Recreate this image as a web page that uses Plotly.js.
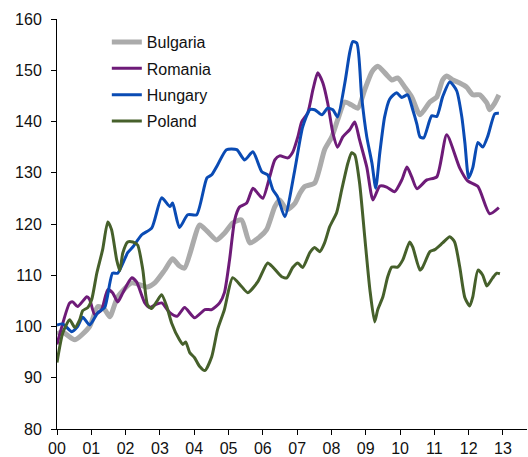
<!DOCTYPE html>
<html>
<head>
<meta charset="utf-8">
<script src="https://cdn.plot.ly/plotly-3.0.1.min.js"></script>
<style>html,body{margin:0;padding:0;background:#fff;}#chart{width:528px;height:457px;}</style>
</head>
<body>
<div id="chart"></div>
<script>
// Years since 2000 (decimal), index values
const seriesNames = ["Bulgaria", "Romania", "Hungary", "Poland"];
const tickYears = [0,1,2,3,4,5,6,7,8,9,10,11,12,13];
const tickLabels = ["00","01","02","03","04","05","06","07","08","09","10","11","12","13"];

const bulgariaX = [0,0.15,0.52,0.95,1.19,1.39,1.54,1.77,2.18,2.64,2.85,3.14,3.37,3.57,3.72,4.16,4.39,4.65,4.88,5.12,5.38,5.62,5.91,6.11,6.35,6.49,6.70,6.93,7.08,7.22,7.51,7.80,8.01,8.18,8.39,8.59,8.77,8.97,9.18,9.35,9.61,9.76,9.93,10.14,10.34,10.58,10.87,11.07,11.24,11.36,11.54,11.74,11.94,12.12,12.32,12.53,12.61,12.76,12.88];
const bulgariaY = [98.5,99,97.4,100,103.9,103.3,101.9,105.8,108.5,107.7,108.5,111,113.2,111.8,111.4,119.8,118.5,116.9,118.2,120.2,120.8,116.3,117.5,118.9,123.4,124.7,122.8,124,126,127.3,128,134.5,137,140.3,143.8,143.2,142.6,146.2,149.7,150.8,149.1,148.1,148.5,146.7,144.8,141.3,143.8,144.8,148.1,148.9,148.1,147.5,146.7,145.2,145.2,143.6,142.3,143.6,145.2];

const romaniaX = [0,0.37,0.46,0.60,0.87,0.95,1.10,1.30,1.48,1.62,1.77,1.92,2.18,2.32,2.56,2.70,2.85,3.05,3.29,3.50,3.72,4.01,4.31,4.51,4.74,4.88,5.03,5.18,5.32,5.53,5.71,5.85,6.00,6.20,6.35,6.49,6.73,6.87,7.02,7.13,7.31,7.46,7.60,7.75,7.89,8.04,8.18,8.33,8.53,8.68,8.82,9.03,9.21,9.41,9.61,9.84,10.05,10.20,10.34,10.49,10.78,11.07,11.36,11.74,11.97,12.27,12.61,12.88];
const romaniaY = [96.5,104.6,104.8,103.9,105.8,105.3,102.3,103.3,107.2,106.6,104.8,106.6,109.5,108.7,104.6,103.7,104.2,104.6,102.7,102,103.7,101.7,103.3,103.3,104.6,106.6,113,120.8,123.3,124.1,127,126,125,129.2,132.5,133.3,132.9,134,137,139.9,141.7,146.2,149.5,147.5,143.6,137.8,135,137,138.4,139.9,136.4,131.1,124.7,127.4,127.2,126.3,128.6,131.1,129.2,126.9,128.6,129.2,137.4,130.9,128.4,127.3,122,123.2];

const hungaryX = [0,0.17,0.43,0.60,0.75,0.95,1.19,1.39,1.62,1.77,2.06,2.21,2.47,2.76,3.05,3.29,3.37,3.57,3.81,4.07,4.37,4.51,4.68,4.94,5.24,5.47,5.71,5.97,6.14,6.29,6.43,6.64,6.93,7.16,7.37,7.51,7.72,7.89,8.04,8.18,8.39,8.53,8.62,8.74,8.88,9.03,9.18,9.29,9.41,9.55,9.70,9.90,10.05,10.22,10.37,10.49,10.58,10.69,10.92,11.07,11.24,11.45,11.65,11.80,11.89,12.00,12.12,12.27,12.41,12.56,12.76,12.88];
const hungaryY = [100.3,100.5,99,100,101.8,100.3,102.7,103.7,110.4,110.4,114.4,115.5,117.9,119.2,125.1,123.4,124.1,119.3,121.8,121.8,129,129.6,131.5,134.5,134.5,132.5,134.1,130.2,129.6,126.7,125.3,121.4,130.5,138.9,142.3,142.3,141.3,142.6,142.3,140.9,147.5,153.4,155.6,155.3,144.8,137,131.9,127,133.9,140.9,144.4,145.6,144.7,145.2,142.3,139.5,137,136.8,141.1,141,144.8,147.7,146,140.9,135.8,129,131,135.9,135,137.2,141.5,141.6];

const polandX = [0,0.17,0.37,0.52,0.66,0.75,0.90,1.01,1.16,1.33,1.48,1.59,1.74,1.83,1.92,2.06,2.21,2.35,2.50,2.64,2.76,2.90,3.05,3.20,3.34,3.57,3.67,3.75,3.87,4.01,4.16,4.31,4.51,4.68,4.88,5.12,5.38,5.56,5.85,6.14,6.29,6.55,6.70,6.87,7.02,7.16,7.37,7.51,7.66,7.80,7.95,8.15,8.30,8.48,8.59,8.68,8.82,8.97,9.12,9.26,9.35,9.50,9.64,9.76,9.93,10.08,10.28,10.37,10.58,10.66,10.87,11.01,11.24,11.45,11.59,11.74,11.89,12.03,12.12,12.27,12.41,12.53,12.70,12.82,12.91];
const polandY = [93,98.8,101.3,99.8,101.3,103.1,103.7,105.2,110.4,115,120.4,118.9,113,110.9,114.4,116.5,116.5,115.9,111.1,104.2,103.5,104.8,106.2,103.9,100.7,97.4,96.5,97,94.9,93.9,92.2,91.4,94.1,99.4,103.3,109.5,107.8,106.6,108.7,112.4,111.6,109.7,109.5,111.5,112.4,111.5,114.4,115.4,114.6,116.3,119.5,122.2,126.7,131.9,133.9,133.5,128,117.5,107.2,100.9,103.3,105.8,109.7,111.6,111.6,113,116.5,115.5,111,111.6,114.6,115,116.3,117.5,116.5,111.6,105.6,104,105.8,111,110,107.9,109.5,110.4,110.3];

const xs = [bulgariaX, romaniaX, hungaryX, polandX];
const ys = [bulgariaY, romaniaY, hungaryY, polandY];
const colors = ["#ababab", "#6e1b78", "#0a4bb4", "#46602b"];
const widths = [5, 3, 3, 3];

const traces = seriesNames.map((n, i) => ({
  type: "scatter", mode: "lines", name: n,
  x: xs[i], y: ys[i],
  legendgroup: "g" + i,
  line: {color: colors[i], width: widths[i], shape: "spline", smoothing: 0.6}
}));

const fontFam = "Liberation Sans, Arial, sans-serif";
const layout = {
  width: 528, height: 457,
  margin: {l: 57, r: 1, t: 19, b: 28},
  paper_bgcolor: "#fff", plot_bgcolor: "#fff",
  font: {family: fontFam, size: 16, color: "#111"},
  showlegend: true,
  legend: {x: 0.106, y: 0.985, xanchor: "left", yanchor: "top",
           bgcolor: "rgba(0,0,0,0)", font: {family: fontFam, size: 16, color: "#111"},
           traceorder: "grouped", tracegroupgap: 2.5, itemwidth: 30},
  xaxis: {range: [0, 13.7], tickvals: tickYears, ticktext: tickLabels,
          showgrid: false, zeroline: false, showline: true, linecolor: "#000", linewidth: 1,
          ticks: "outside", ticklen: 5, tickcolor: "#000", tickfont: {size: 16, family: fontFam}},
  yaxis: {range: [80, 160], dtick: 10, tick0: 80,
          showgrid: false, zeroline: false, showline: true, linecolor: "#000", linewidth: 1,
          ticks: "outside", ticklen: 5, tickcolor: "#000", tickfont: {size: 16, family: fontFam},
          ticklabelstandoff: 6}
};
Plotly.newPlot("chart", traces, layout, {displayModeBar: false, staticPlot: true});
</script>
</body>
</html>
